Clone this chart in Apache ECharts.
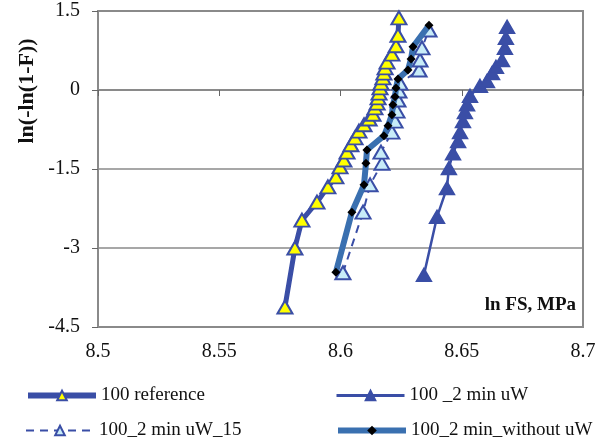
<!DOCTYPE html>
<html><head><meta charset="utf-8">
<script src="https://cdn.jsdelivr.net/npm/echarts@6/dist/echarts.min.js"></script>
<style>html,body{margin:0;padding:0;background:#fff}#c{width:610px;height:440px}</style>
</head><body><div id="c"></div>
<script>
// 100 reference
const refX = [8.5771,8.5812,8.5841,8.5903,8.5948,8.5981,8.5998,8.6014,8.6027,8.6043,8.6060,8.6076,8.6097,8.6118,8.6134,8.6142,8.6151,8.6155,8.6159,8.6163,8.6167,8.6175,8.6179,8.6184,8.6192,8.6212,8.6229,8.6237,8.6241];
const refY = [-4.12,-3.00,-2.47,-2.13,-1.84,-1.65,-1.46,-1.33,-1.18,-1.04,-0.91,-0.78,-0.66,-0.55,-0.46,-0.34,-0.25,-0.15,-0.06,0.04,0.13,0.23,0.32,0.42,0.53,0.68,0.84,1.04,1.37];
// 100 _2 min uW
const uwX = [8.6344,8.6398,8.6439,8.6447,8.6464,8.6485,8.6493,8.6505,8.6513,8.6522,8.6534,8.6575,8.6604,8.6625,8.6641,8.6666,8.6678,8.6682,8.6687];
const uwY = [-3.51,-2.41,-1.86,-1.48,-1.20,-0.97,-0.80,-0.59,-0.42,-0.27,-0.11,0.08,0.17,0.32,0.44,0.57,0.80,0.99,1.20];
// 100_2 min uW_15
const uw15X = [8.6010,8.6093,8.6122,8.6171,8.6167,8.6212,8.6225,8.6233,8.6237,8.6241,8.6245,8.6324,8.6328,8.6336,8.6365];
const uw15Y = [-3.47,-2.32,-1.80,-1.39,-1.18,-0.80,-0.59,-0.40,-0.19,-0.02,0.13,0.38,0.57,0.80,1.14];
// 100_2 min_without uW
const woX = [8.5981,8.6047,8.6097,8.6105,8.6109,8.6179,8.6196,8.6212,8.6216,8.6225,8.6229,8.6237,8.6278,8.6291,8.6299,8.6365];
const woY = [-3.46,-2.32,-1.80,-1.39,-1.14,-0.87,-0.68,-0.47,-0.28,-0.13,0.04,0.21,0.38,0.59,0.82,1.23];

const names = ['100 reference','100 _2 min uW','100_2 min uW_15','100_2 min_without uW'];
const xTicks = [8.5,8.55,8.6,8.65,8.7];
const yTicks = [-4.5,-3,-1.5,0,1.5];

function pairs(xs, ys){ return xs.map((x,i)=>[x, ys[i]]); }
const FONT = 'Liberation Serif';
const DB = '#3a4ea6';

const chart = echarts.init(document.getElementById('c'), null, {renderer:'canvas'});
function leg(left, top, name, lw){
  return {left:left, top:top, data:[name], itemWidth:68, itemHeight:12, itemGap:0,
    lineStyle:{width:lw}, textStyle:{fontFamily:FONT, fontSize:19, color:'#111'}};
}
chart.setOption({
  animation:false,
  backgroundColor:'#fff',
  grid:{left:98, right:27, top:11, bottom:113, show:true, borderColor:'#8a8a8a', borderWidth:2, backgroundColor:'#fff'},
  xAxis:{type:'value', min:xTicks[0], max:xTicks[xTicks.length-1], interval:0.05,
    axisLine:{show:true, lineStyle:{color:'#8a8a8a', width:2}},
    axisTick:{show:true, inside:false, length:6, lineStyle:{color:'#666'}},
    axisLabel:{fontFamily:FONT, fontSize:20, color:'#111', margin:15},
    splitLine:{show:false}},
  yAxis:{type:'value', min:yTicks[0], max:yTicks[yTicks.length-1], interval:1.5,
    axisLine:{show:true, lineStyle:{color:'#8a8a8a', width:2}},
    axisTick:{show:true, inside:false, length:6, lineStyle:{color:'#666'}},
    axisLabel:{fontFamily:FONT, fontSize:20, color:'#111', margin:18},
    splitLine:{show:true, lineStyle:{color:['#8a8a8a','#8a8a8a','#8a8a8a','#222','#8a8a8a'], width:1.5}}},
  legend:[
    leg(20, 381, names[0], 6),
    leg(330, 381, names[1], 3),
    leg(20, 416, names[2], 2),
    leg(330, 416, names[3], 6)
  ],
  graphic:[
    {type:'text', x:27, y:91, rotation:Math.PI/2, style:{text:'ln(-ln(1-F))', font:'bold 22px "Liberation Serif"', fill:'#111', align:'center', verticalAlign:'middle'}},
    {type:'text', right:30, top:293, style:{text:'ln FS, MPa', font:'bold 19px "Liberation Serif"', fill:'#111', backgroundColor:'#fff', padding:[3,4,3,4]}}
  ],
  series:[
    {name:names[0], type:'line', data:pairs(refX, refY), symbol:'triangle', symbolSize:[15,13],
      lineStyle:{color:DB, width:5}, itemStyle:{color:'#ffff00', borderColor:DB, borderWidth:2}, z:3},
    {name:names[1], type:'line', data:pairs(uwX, uwY), symbol:'triangle', symbolSize:[15,13],
      lineStyle:{color:DB, width:2.5}, itemStyle:{color:DB, borderColor:DB, borderWidth:1.5}, z:3},
    {name:names[2], type:'line', data:pairs(uw15X, uw15Y), symbol:'triangle', symbolSize:[15,13],
      lineStyle:{color:DB, width:2, type:[8,6]}, itemStyle:{color:'#c8ecf8', borderColor:DB, borderWidth:2}, z:4},
    {name:names[3], type:'line', data:pairs(woX, woY), symbol:'diamond', symbolSize:[9,9],
      lineStyle:{color:'#3a70b0', width:6}, itemStyle:{color:'#000', borderColor:'#000', borderWidth:0}, z:5}
  ]
});
</script></body></html>
